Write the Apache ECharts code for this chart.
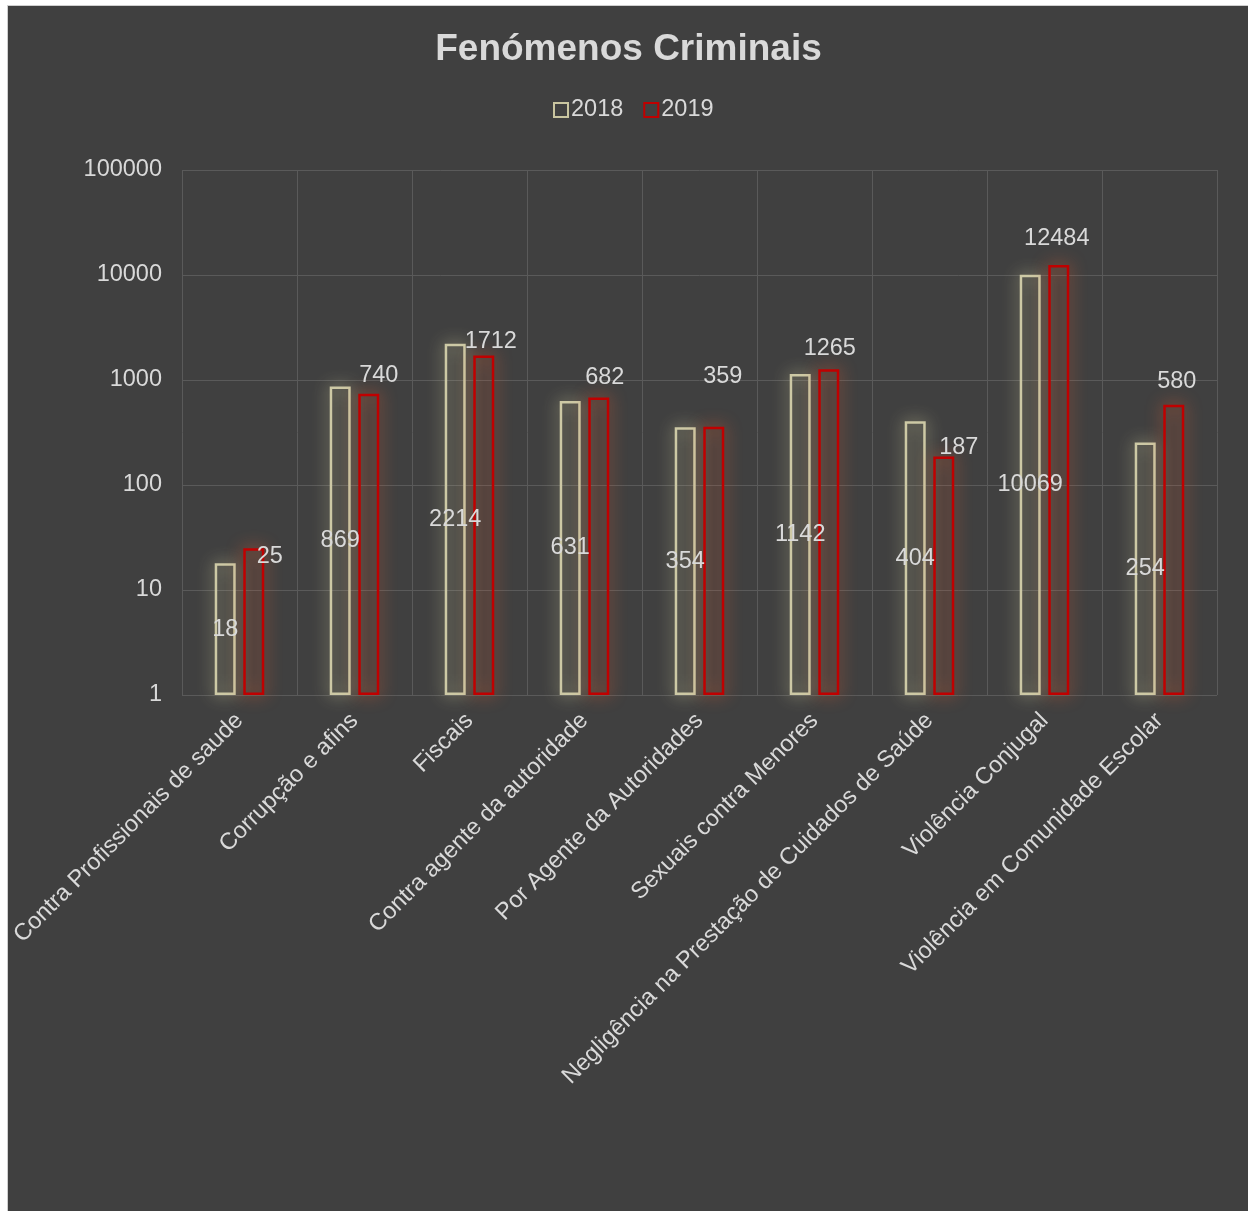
<!DOCTYPE html>
<html>
<head>
<meta charset="utf-8">
<script src="https://cdn.jsdelivr.net/npm/echarts@6/dist/echarts.min.js"></script>
<style>
  html, body { margin: 0; padding: 0; background: #ffffff; width: 1248px; height: 1211px; overflow: hidden; }
  #frame { position: absolute; left: 7px; top: 5px; border-left: 1px solid #cfcfcf; border-top: 1px solid #cfcfcf; }
  #chart { width: 1241px; height: 1206px; background: #404040; }
</style>
</head>
<body>
<div id="frame"><div id="chart"></div></div>
<script>
const categories = [
  'Contra Profissionais de saude',
  'Corrupção e afins',
  'Fiscais',
  'Contra agente da autoridade',
  'Por Agente da Autoridades',
  'Sexuais contra Menores',
  'Negligência na Prestação de Cuidados de Saúde',
  'Violência Conjugal',
  'Violência em Comunidade Escolar'
];
const values2018 = [18, 869, 2214, 631, 354, 1142, 404, 10069, 254];
const values2019 = [25, 740, 1712, 682, 359, 1265, 187, 12484, 580];
const yTicks = [1, 10, 100, 1000, 10000, 100000];

// label nudges (style only) for the 2019 labels: [dx, dy]
const nudge2019 = [[16, 28], [10, 2], [7, 6], [6, 0], [9, -30], [1, -1], [15, 11], [-2, -6], [3, -3]];

const FONT = "'Liberation Sans', Arial, sans-serif";
const TXT = '#d9d9d9';

const chart = echarts.init(document.getElementById('chart'), null, { renderer: 'canvas' });

const data2019 = values2019.map((v, i) => ({
  value: v,
  label: { offset: nudge2019[i] }
}));

chart.setOption({
  backgroundColor: '#404040',
  animation: false,
  title: {
    text: 'Fenómenos Criminais',
    left: 'center',
    top: 20,
    textStyle: { color: TXT, fontFamily: FONT, fontSize: 37, fontWeight: 'bold' }
  },
  legend: {
    top: 87,
    left: 540,
    itemWidth: 14,
    itemHeight: 14,
    itemGap: 20,
    icon: 'rect',
    textStyle: { color: TXT, fontFamily: FONT, fontSize: 23.5, padding: [0, 0, 0, -2] },
    data: [
      { name: '2018', itemStyle: { color: 'rgba(0,0,0,0)', borderColor: '#c9c5a0', borderWidth: 2, shadowBlur: 0 } },
      { name: '2019', itemStyle: { color: 'rgba(0,0,0,0)', borderColor: '#c00000', borderWidth: 2, shadowBlur: 0 } }
    ]
  },
  grid: { left: 174, right: 32, top: 164, bottom: 517, containLabel: false, outerBoundsMode: 'none' },
  xAxis: {
    type: 'category',
    data: categories,
    axisLine: { show: false },
    axisTick: { show: false },
    splitLine: { show: true, interval: 0, lineStyle: { color: '#5a5a5a', width: 1 } },
    axisLabel: {
      interval: 0,
      rotate: 45,
      margin: 22,
      color: TXT,
      fontFamily: FONT,
      fontSize: 23.5
    }
  },
  yAxis: {
    type: 'log',
    logBase: 10,
    min: yTicks[0],
    max: yTicks[yTicks.length - 1],
    axisLine: { show: false },
    axisTick: { show: false },
    splitLine: { show: true, lineStyle: { color: '#5a5a5a', width: 1 } },
    axisLabel: {
      margin: 20,
      color: TXT,
      fontFamily: FONT,
      fontSize: 23.5,
      formatter: v => String(Math.round(v))
    }
  },
  series: [
    {
      name: '2018',
      type: 'bar',
      data: values2018,
      barWidth: 21,
      barGap: '36%',
      itemStyle: {
        color: 'rgba(0,0,0,0)',
        borderColor: '#cdc9a5',
        borderWidth: 2.5,
        shadowBlur: 16,
        shadowColor: 'rgba(215,210,160,1)'
      },
      label: {
        show: true,
        position: 'inside',
        color: TXT,
        fontFamily: FONT,
        fontSize: 23.5
      },
      emphasis: { disabled: true }
    },
    {
      name: '2019',
      type: 'bar',
      data: data2019,
      barWidth: 21,
      barGap: '36%',
      itemStyle: {
        color: 'rgba(0,0,0,0)',
        borderColor: '#c00000',
        borderWidth: 2.5,
        shadowBlur: 16,
        shadowColor: 'rgba(230,95,50,1)'
      },
      label: {
        show: true,
        position: 'top',
        distance: 8,
        color: TXT,
        fontFamily: FONT,
        fontSize: 23.5
      },
      emphasis: { disabled: true }
    }
  ]
});
</script>
</body>
</html>
